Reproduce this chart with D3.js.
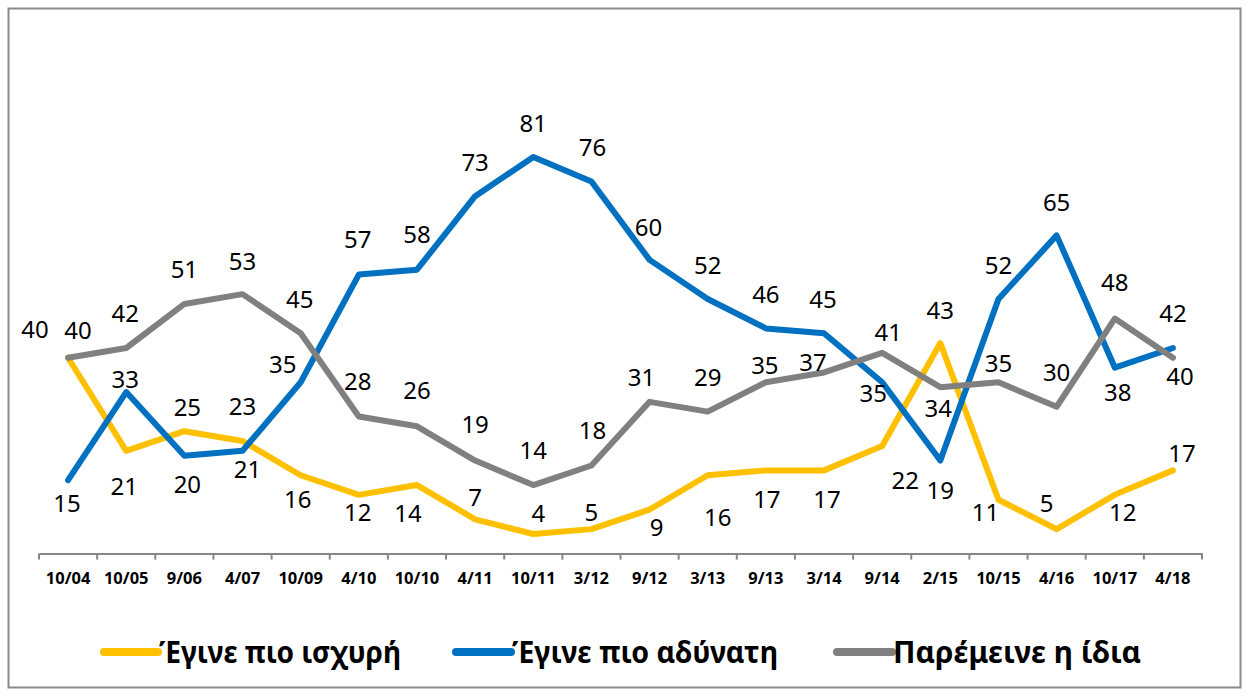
<!DOCTYPE html>
<html>
<head>
<meta charset="utf-8">
<script src="https://cdn.jsdelivr.net/npm/d3@7"></script>
<style>
  body { margin: 0; background: #fff; }
  svg { display: block; }
</style>
</head>
<body>
<div class="canvas"></div>
<script>
// data
const periods = ['10/04','10/05','9/06','4/07','10/09','4/10','10/10','4/11','10/11','3/12',
                 '9/12','3/13','9/13','3/14','9/14','2/15','10/15','4/16','10/17','4/18'];
const stronger = [40,21,25,23,16,12,14,7,4,5,9,16,17,17,22,43,11,5,12,17];
const weaker   = [15,33,20,21,35,57,58,73,81,76,60,52,46,45,35,19,52,65,38,42];
const same     = [40,42,51,53,45,28,26,19,14,18,31,29,35,37,41,34,35,30,48,40];
const seriesNames = ['Έγινε πιο ισχυρή','Έγινε πιο αδύνατη','Παρέμεινε η ίδια'];

// label nudges (px, relative to the point) – layout only
const nudgeStronger = [[-33,-28],[-2,36],[3,-24],[0,-35],[-3,24],[-1,18],[-9,28],[0,-22],[5,-21],[0,-17],
                       [7,18],[10,42],[1,29],[3,29],[23,34],[0,-33],[-13,13],[-10,-26],[8,18],[9,-17]];
const nudgeWeaker   = [[-1,23],[-1,-13],[3,29],[5,19],[-18,-18],[-1,-35],[0,-35],[0,-34],[0,-34],[1,-34],
                       [-1,-33],[0,-34],[0,-34],[-1,-34],[-9,11],[0,30],[0,-34],[0,-33],[3,25],[0,-35]];
const nudgeSame     = [[10,-27],[-1,-35],[0,-35],[0,-33],[-1,-34],[-1,-35],[0,-36],[0,-36],[0,-35],[1,-35],
                       [-8,-24],[0,-34],[-1,-17],[-11,-10],[6,-21],[-2,21],[0,-19],[0,-34],[0,-36],[7,19]];

const colours = ['#FFC000','#0070C0','#808080'];

const dims = { width: 1253, height: 697 };
const plot = { left: 39, right: 1202, top: 113, bottom: 553.6 };

const svg = d3.select('.canvas')
  .append('svg')
  .attr('width', dims.width)
  .attr('height', dims.height);

// chart border
svg.append('rect')
  .attr('x', 8.5).attr('y', 8.5)
  .attr('width', 1232).attr('height', 679)
  .attr('fill', '#fff')
  .attr('stroke', '#898989')
  .attr('stroke-width', 2);

const xBand = d3.scaleBand().domain(periods).range([plot.left, plot.right]);
const x = d3.scalePoint().domain(periods).range([plot.left, plot.right]).padding(0.5);
const y = d3.scaleLinear().domain([0, 90]).range([plot.bottom, plot.top]);

// x axis
const xAxis = svg.append('g')
  .attr('transform', `translate(0, ${plot.bottom})`)
  .call(d3.axisBottom(xBand).tickSize(0).tickPadding(19));
xAxis.select('.domain').attr('stroke', '#868686').attr('stroke-width', 2);
xAxis.selectAll('text')
  .attr('font-family', '"Noto Sans", sans-serif')
  .attr('font-weight', 'bold')
  .attr('font-size', 16.5)
  .attr('fill', '#000');

const edges = periods.map(p => xBand(p)).concat([plot.right]);
xAxis.selectAll('line.tk')
  .data(edges)
  .enter().append('line')
  .attr('class', 'tk')
  .attr('x1', d => d).attr('x2', d => d)
  .attr('y1', 0).attr('y2', 6)
  .attr('stroke', '#868686')
  .attr('stroke-width', 2);

// lines
const series = [
  { values: stronger, nudge: nudgeStronger },
  { values: weaker,   nudge: nudgeWeaker },
  { values: same,     nudge: nudgeSame }
];

const line = d3.line()
  .x((d, i) => x(periods[i]))
  .y(d => y(d));

const graph = svg.append('g');

// draw in Excel order: gray on top of blue on top of yellow
series.forEach((s, k) => {
  graph.append('path')
    .datum(s.values)
    .attr('d', line)
    .attr('fill', 'none')
    .attr('stroke', colours[k])
    .attr('stroke-width', 6)
    .attr('stroke-linejoin', 'round')
    .attr('stroke-linecap', 'round');
});

// data labels
series.forEach((s, k) => {
  graph.append('g')
    .selectAll('text')
    .data(s.values)
    .enter().append('text')
    .attr('x', (d, i) => x(periods[i]) + s.nudge[i][0])
    .attr('y', (d, i) => y(d) + s.nudge[i][1])
    .attr('dy', '0.36em')
    .attr('text-anchor', 'middle')
    .attr('font-family', '"Noto Sans", sans-serif')
    .attr('font-size', 24)
    .attr('fill', '#000')
    .text(d => d);
});

// legend
const legendItems = [
  { x1: 104, x2: 158, tx: 159, tw: 242 },
  { x1: 456, x2: 511, tx: 512, tw: 266 },
  { x1: 837, x2: 892, tx: 893, tw: 248 }
];
const legend = svg.append('g').attr('transform', 'translate(0, 652)');
legendItems.forEach((it, k) => {
  legend.append('line')
    .attr('x1', it.x1).attr('x2', it.x2)
    .attr('y1', 0).attr('y2', 0)
    .attr('stroke', colours[k])
    .attr('stroke-width', 8)
    .attr('stroke-linecap', 'round');
  legend.append('text')
    .attr('x', it.tx)
    .attr('y', 0)
    .attr('dy', '0.36em')
    .attr('font-family', '"Noto Sans", sans-serif')
    .attr('font-weight', 'bold')
    .attr('font-size', 31)
    .attr('textLength', it.tw)
    .attr('lengthAdjust', 'spacingAndGlyphs')
    .attr('fill', '#000')
    .text(seriesNames[k]);
});
</script>
</body>
</html>
